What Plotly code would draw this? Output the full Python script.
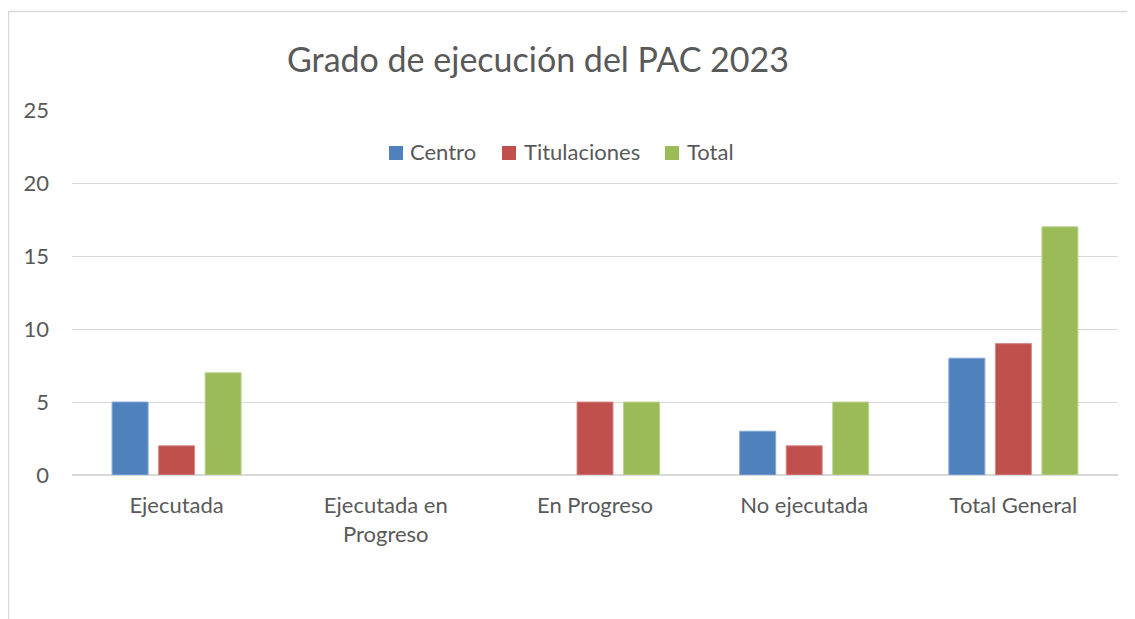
import plotly.graph_objects as go

categories = ["Ejecutada", "Ejecutada en<br>Progreso", "En Progreso", "No ejecutada", "Total General"]
centro = [5, 0, 0, 3, 8]
titulaciones = [2, 0, 5, 2, 9]
total = [7, 0, 5, 5, 17]
y_ticks = [0, 5, 10, 15, 20, 25]
series_names = ["Centro", "Titulaciones", "Total"]
series_colors = ["#4F81BD", "#C0504D", "#9BBB59"]
edge_colors = ["#86A8D4", "#D68B89", "#BDD392"]

FONT = "Lato"
GRAY = "#595959"

# page body has an 8px margin; figure coordinates below are in figure pixels
W, H = 1127, 611
L, R, T, B = 64, 17, 102, 144
PW, PH = W - L - R, H - T - B


def px_x(fx):
    return (fx - L) / PW


def px_y(fy):
    return (H - B - fy) / PH


fig = go.Figure()
for name, vals, col, edge in zip(series_names, [centro, titulaciones, total], series_colors, edge_colors):
    fig.add_trace(go.Bar(x=categories, y=vals, name=name, showlegend=False,
                         marker=dict(color=col,
                                     line=dict(color=edge, width=[1 if v > 0 else 0 for v in vals]))))

# custom legend (box + label) to match spacing of the original
legend_boxes = [381, 494, 657]
legend_texts = [400, 514, 677]
shapes = []
annotations = []
for name, col, bx, tx in zip(series_names, series_colors, legend_boxes, legend_texts):
    shapes.append(dict(type="rect", xref="paper", yref="paper",
                       x0=px_x(bx), x1=px_x(bx + 14), y0=px_y(152), y1=px_y(138),
                       fillcolor=col, line=dict(width=0)))
    annotations.append(dict(text=name, xref="paper", yref="paper", x=px_x(tx), y=px_y(143),
                            xanchor="left", yanchor="middle", showarrow=False,
                            font=dict(size=22, color=GRAY, family=FONT)))

# outer chart frame
shapes.append(dict(type="rect", xref="paper", yref="paper", x0=px_x(0.5), x1=px_x(W + 50),
                   y0=px_y(H + 50), y1=px_y(3.5), line=dict(color="#D9D9D9", width=1.5),
                   fillcolor="rgba(0,0,0,0)", layer="below"))

fig.update_layout(
    width=W, height=H,
    margin=dict(l=L, r=R, t=T, b=B),
    paper_bgcolor="white", plot_bgcolor="white",
    barmode="group", bargap=0.333, bargroupgap=0.226,
    font=dict(family=FONT, color=GRAY, size=22),
    title=dict(text="Grado de ejecución del PAC 2023", x=530 / W, xanchor="center",
               y=1 - 52 / H, yanchor="middle", font=dict(size=34, color=GRAY, family=FONT)),
    showlegend=False,
    xaxis=dict(showgrid=False, showline=False, ticks="", tickfont=dict(size=22, color=GRAY),
               ticklabelstandoff=15, fixedrange=True),
    yaxis=dict(range=[0, 25], tickvals=y_ticks, showgrid=True, gridcolor="#D9D9D9", gridwidth=1,
               zeroline=True, zerolinecolor="#D9D9D9", zerolinewidth=1.5,
               showline=False, ticks="", tickfont=dict(size=22, color=GRAY),
               ticklabelstandoff=22, fixedrange=True),
    shapes=shapes,
    annotations=annotations,
)

fig.write_html("out.html")
